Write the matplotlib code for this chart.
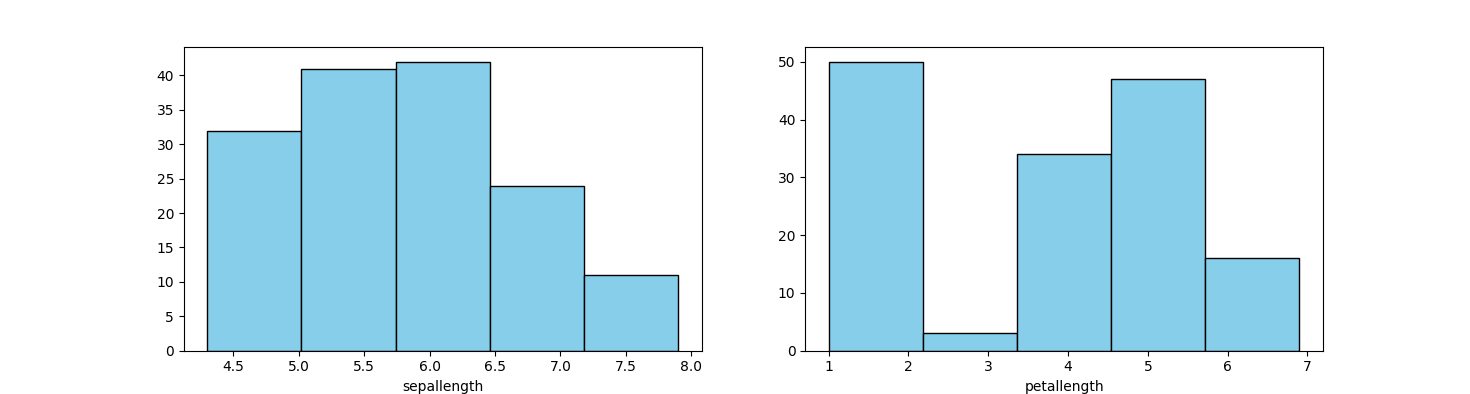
import matplotlib
matplotlib.use("Agg")
import matplotlib.pyplot as plt

# Data (iris, 5 bins each)
sepal_edges = [4.3, 5.02, 5.74, 6.46, 7.18, 7.9]
sepal_counts = [32, 41, 42, 24, 11]
petal_edges = [1.0, 2.18, 3.36, 4.54, 5.72, 6.9]
petal_counts = [50, 3, 34, 47, 16]

fig, axes = plt.subplots(1, 2, figsize=(14.7, 3.94), dpi=100)

for ax, edges, counts, label in [
    (axes[0], sepal_edges, sepal_counts, "sepallength"),
    (axes[1], petal_edges, petal_counts, "petallength"),
]:
    ax.hist(edges[:-1], bins=edges, weights=counts, color="skyblue", edgecolor="black")
    ax.set_xlabel(label)

fig.savefig("out.png", dpi=100)
